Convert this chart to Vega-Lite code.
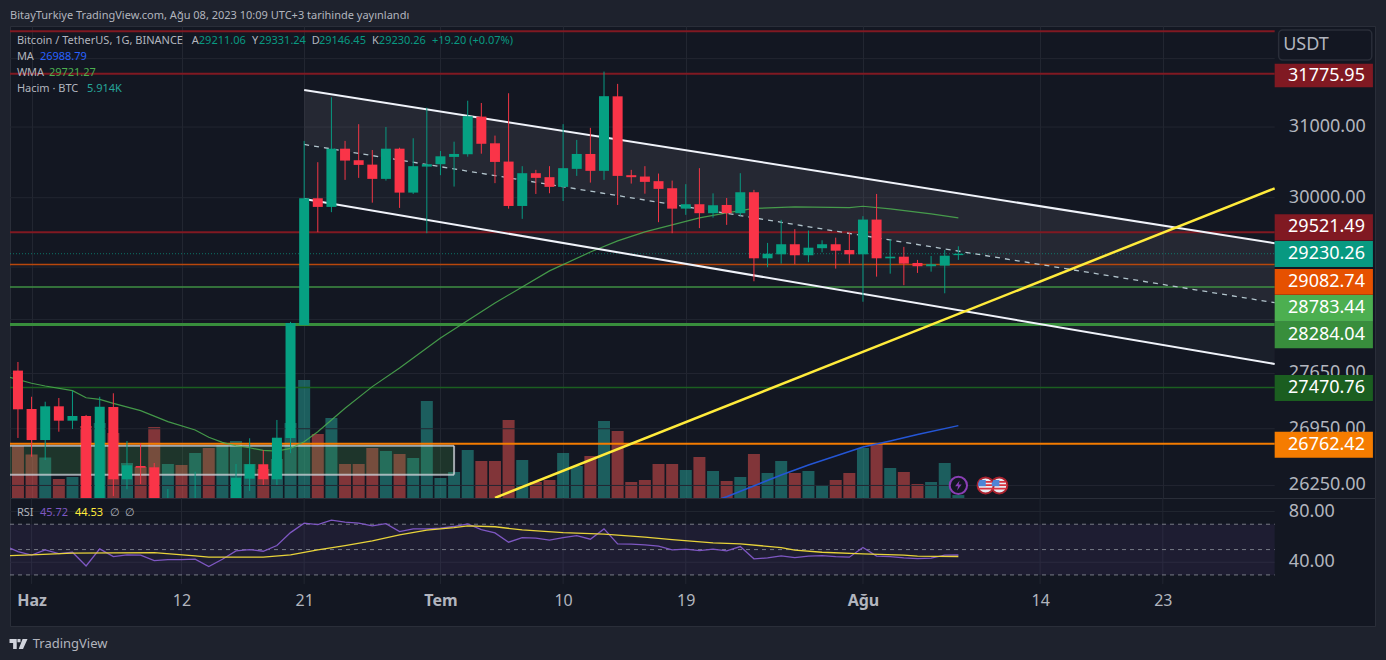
{
  "$schema": "https://vega.github.io/schema/vega-lite/v6.json",
  "background": "#1e222d",
  "padding": {"left": 8, "right": 13, "top": 9, "bottom": 8},
  "title": {"text": "BitayTurkiye TradingView.com, Ağu 08, 2023 10:09 UTC+3 tarihinde yayınlandı", "anchor": "start", "frame": "group", "offset": 5, "fontSize": 11, "fontWeight": "normal", "color": "#b2b5be"},
  "config": {
    "font": "Noto Sans",
    "view": {"stroke": "#2a2e39", "fill": "#131722"}
  },
  "spacing": 0,
  "bounds": "flush",
  "resolve": {"scale": {"color": "independent"}},
  "datasets": {
    "candles": [
      {"date":"2023-05-31","o":27687,"h":27798,"l":26835,"c":27194,"v":104},
      {"date":"2023-06-01","o":27198,"h":27353,"l":26602,"c":26809,"v":87},
      {"date":"2023-06-02","o":26809,"h":27290,"l":26562,"c":27232,"v":81},
      {"date":"2023-06-03","o":27232,"h":27337,"l":26913,"c":27051,"v":38},
      {"date":"2023-06-04","o":27051,"h":27430,"l":26947,"c":27110,"v":42},
      {"date":"2023-06-05","o":27110,"h":27123,"l":25350,"c":25730,"v":144},
      {"date":"2023-06-06","o":25730,"h":27353,"l":25390,"c":27227,"v":150},
      {"date":"2023-06-07","o":27223,"h":27397,"l":26121,"c":26325,"v":130},
      {"date":"2023-06-08","o":26325,"h":26797,"l":26203,"c":26497,"v":70},
      {"date":"2023-06-09","o":26488,"h":26768,"l":26268,"c":26467,"v":62},
      {"date":"2023-06-10","o":26472,"h":26525,"l":25400,"c":25850,"v":142},
      {"date":"2023-06-11","o":25850,"h":26207,"l":25600,"c":25920,"v":68},
      {"date":"2023-06-12","o":25920,"h":26090,"l":25700,"c":25900,"v":66},
      {"date":"2023-06-13","o":25900,"h":26418,"l":25700,"c":25950,"v":90},
      {"date":"2023-06-14","o":25950,"h":26090,"l":24800,"c":25100,"v":100},
      {"date":"2023-06-15","o":25100,"h":25740,"l":24750,"c":25600,"v":106},
      {"date":"2023-06-16","o":25600,"h":26513,"l":25200,"c":26345,"v":114},
      {"date":"2023-06-17","o":26333,"h":26831,"l":26182,"c":26509,"v":68},
      {"date":"2023-06-18","o":26509,"h":26684,"l":26256,"c":26325,"v":58},
      {"date":"2023-06-19","o":26325,"h":27060,"l":26256,"c":26838,"v":78},
      {"date":"2023-06-20","o":26835,"h":28320,"l":26647,"c":28306,"v":150},
      {"date":"2023-06-21","o":28280,"h":30801,"l":28280,"c":29992,"v":236},
      {"date":"2023-06-22","o":29992,"h":30498,"l":29524,"c":29872,"v":128},
      {"date":"2023-06-23","o":29872,"h":31431,"l":29799,"c":30690,"v":160},
      {"date":"2023-06-24","o":30690,"h":30801,"l":30249,"c":30521,"v":68},
      {"date":"2023-06-25","o":30526,"h":31041,"l":30277,"c":30460,"v":68},
      {"date":"2023-06-26","o":30464,"h":30671,"l":29931,"c":30263,"v":100},
      {"date":"2023-06-27","o":30263,"h":31000,"l":30239,"c":30690,"v":94},
      {"date":"2023-06-28","o":30690,"h":30704,"l":29858,"c":30071,"v":88},
      {"date":"2023-06-29","o":30071,"h":30839,"l":30052,"c":30442,"v":80},
      {"date":"2023-06-30","o":30436,"h":31280,"l":29510,"c":30470,"v":194},
      {"date":"2023-07-01","o":30470,"h":30657,"l":30315,"c":30582,"v":40},
      {"date":"2023-07-02","o":30573,"h":30790,"l":30155,"c":30615,"v":52},
      {"date":"2023-07-03","o":30611,"h":31381,"l":30577,"c":31156,"v":96},
      {"date":"2023-07-04","o":31150,"h":31348,"l":30619,"c":30760,"v":74},
      {"date":"2023-07-05","o":30767,"h":30877,"l":30203,"c":30502,"v":74},
      {"date":"2023-07-06","o":30507,"h":31490,"l":29848,"c":29885,"v":156},
      {"date":"2023-07-07","o":29885,"h":30442,"l":29707,"c":30343,"v":76},
      {"date":"2023-07-08","o":30343,"h":30390,"l":30052,"c":30277,"v":32},
      {"date":"2023-07-09","o":30287,"h":30442,"l":30062,"c":30151,"v":36},
      {"date":"2023-07-10","o":30151,"h":31041,"l":29954,"c":30414,"v":90},
      {"date":"2023-07-11","o":30404,"h":30815,"l":30305,"c":30615,"v":64},
      {"date":"2023-07-12","o":30615,"h":30988,"l":30211,"c":30376,"v":84},
      {"date":"2023-07-13","o":30376,"h":31808,"l":30249,"c":31447,"v":154},
      {"date":"2023-07-14","o":31445,"h":31627,"l":29899,"c":30305,"v":134},
      {"date":"2023-07-15","o":30315,"h":30390,"l":30197,"c":30287,"v":32},
      {"date":"2023-07-16","o":30296,"h":30442,"l":30056,"c":30221,"v":36},
      {"date":"2023-07-17","o":30231,"h":30338,"l":29661,"c":30123,"v":68},
      {"date":"2023-07-18","o":30132,"h":30239,"l":29510,"c":29848,"v":68},
      {"date":"2023-07-19","o":29848,"h":30189,"l":29762,"c":29909,"v":56},
      {"date":"2023-07-20","o":29909,"h":30414,"l":29579,"c":29785,"v":82},
      {"date":"2023-07-21","o":29785,"h":30060,"l":29724,"c":29895,"v":54},
      {"date":"2023-07-22","o":29899,"h":29996,"l":29624,"c":29785,"v":34},
      {"date":"2023-07-23","o":29785,"h":30343,"l":29748,"c":30076,"v":42},
      {"date":"2023-07-24","o":30076,"h":30109,"l":28859,"c":29168,"v":88},
      {"date":"2023-07-25","o":29168,"h":29377,"l":29047,"c":29230,"v":50},
      {"date":"2023-07-26","o":29222,"h":29693,"l":29096,"c":29359,"v":74},
      {"date":"2023-07-27","o":29359,"h":29565,"l":29088,"c":29209,"v":50},
      {"date":"2023-07-28","o":29209,"h":29546,"l":29115,"c":29312,"v":54},
      {"date":"2023-07-29","o":29305,"h":29413,"l":29249,"c":29359,"v":26},
      {"date":"2023-07-30","o":29359,"h":29449,"l":29029,"c":29271,"v":36},
      {"date":"2023-07-31","o":29280,"h":29518,"l":29096,"c":29222,"v":50},
      {"date":"2023-08-01","o":29222,"h":29744,"l":28586,"c":29697,"v":100},
      {"date":"2023-08-02","o":29697,"h":30052,"l":28921,"c":29168,"v":108},
      {"date":"2023-08-03","o":29168,"h":29423,"l":28961,"c":29190,"v":60},
      {"date":"2023-08-04","o":29190,"h":29323,"l":28806,"c":29096,"v":52},
      {"date":"2023-08-05","o":29105,"h":29146,"l":28971,"c":29061,"v":28},
      {"date":"2023-08-06","o":29061,"h":29199,"l":28988,"c":29088,"v":32},
      {"date":"2023-08-07","o":29069,"h":29280,"l":28698,"c":29203,"v":70},
      {"date":"2023-08-08","o":29211.06,"h":29331.24,"l":29146.45,"c":29230.26,"v":5.914}
    ],
    "wma": [
      {"date":"2023-05-30T10:00:00Z","p":27600},{"date":"2023-06-01","p":27525},{"date":"2023-06-02","p":27490},{"date":"2023-06-04","p":27430},
      {"date":"2023-06-05","p":27340},{"date":"2023-06-06","p":27320},{"date":"2023-06-07","p":27270},{"date":"2023-06-09","p":27177},
      {"date":"2023-06-11","p":27039},{"date":"2023-06-13","p":26935},{"date":"2023-06-14","p":26843},{"date":"2023-06-15","p":26780},
      {"date":"2023-06-16","p":26738},{"date":"2023-06-17","p":26713},{"date":"2023-06-18","p":26680},{"date":"2023-06-19","p":26672},
      {"date":"2023-06-20","p":26705},{"date":"2023-06-21","p":26788},{"date":"2023-06-22","p":26913},{"date":"2023-06-23","p":27060},
      {"date":"2023-06-24","p":27207},{"date":"2023-06-26","p":27482},{"date":"2023-06-28","p":27721},{"date":"2023-07-01","p":28109},
      {"date":"2023-07-05","p":28569},{"date":"2023-07-09","p":28998},{"date":"2023-07-12","p":29253},{"date":"2023-07-14","p":29404},
      {"date":"2023-07-16","p":29528},{"date":"2023-07-18","p":29624},{"date":"2023-07-20","p":29720},{"date":"2023-07-22","p":29789},
      {"date":"2023-07-24","p":29851},{"date":"2023-07-27","p":29872},{"date":"2023-07-31","p":29862},{"date":"2023-08-01","p":29881},
      {"date":"2023-08-03","p":29844},{"date":"2023-08-06","p":29775},{"date":"2023-08-08","p":29721.27}
    ],
    "ma": [
      {"date":"2023-07-21","p":26060},{"date":"2023-07-22","p":26112},{"date":"2023-07-26","p":26378},{"date":"2023-07-28","p":26500},
      {"date":"2023-08-01","p":26722},{"date":"2023-08-03","p":26797},{"date":"2023-08-05","p":26878},{"date":"2023-08-08","p":26988.79}
    ],
    "channel": [
      {"date":"2023-06-21","upper":31538,"mid":30750,"lower":29982},
      {"date":"2023-08-31T05:00:00Z","upper":29373,"mid":28573,"lower":27773}
    ],
    "trend": [
      {"date":"2023-07-05","p":26100},
      {"date":"2023-08-31T05:00:00Z","p":30130}
    ],
    "box": [
      {"date":"2023-05-30T10:00:00Z","end":"2023-07-02","top":26738,"bottom":26382}
    ],
    "boxEdgesH": [
      {"date":"2023-05-30T10:00:00Z","end":"2023-07-02","p":26738},
      {"date":"2023-05-30T10:00:00Z","end":"2023-07-02","p":26382}
    ],
    "boxEdgeV": [
      {"date":"2023-07-02","top":26738,"bottom":26382}
    ],
    "grid": [
      {"date":"2023-05-30T10:00:00Z","end":"2023-08-31T05:00:00Z","p":32000},
      {"date":"2023-05-30T10:00:00Z","end":"2023-08-31T05:00:00Z","p":31000},
      {"date":"2023-05-30T10:00:00Z","end":"2023-08-31T05:00:00Z","p":30000},
      {"date":"2023-05-30T10:00:00Z","end":"2023-08-31T05:00:00Z","p":29050},
      {"date":"2023-05-30T10:00:00Z","end":"2023-08-31T05:00:00Z","p":28350},
      {"date":"2023-05-30T10:00:00Z","end":"2023-08-31T05:00:00Z","p":27650},
      {"date":"2023-05-30T10:00:00Z","end":"2023-08-31T05:00:00Z","p":26950},
      {"date":"2023-05-30T10:00:00Z","end":"2023-08-31T05:00:00Z","p":26250}
    ],
    "priceLabels": [
      {"at":"2023-09-01T06:00:00Z","p":31000,"text":"31000.00"},
      {"at":"2023-09-01T06:00:00Z","p":30000,"text":"30000.00"},
      {"at":"2023-09-01T06:00:00Z","p":27650,"text":"27650.00"},
      {"at":"2023-09-01T06:00:00Z","p":26950,"text":"26950.00"},
      {"at":"2023-09-01T06:00:00Z","p":26250,"text":"26250.00"}
    ],
    "levels": [
      {"date":"2023-05-30T10:00:00Z","end":"2023-08-31T05:00:00Z","p":32408,"key":"32408"},
      {"date":"2023-05-30T10:00:00Z","end":"2023-08-31T05:00:00Z","p":31775.95,"key":"31775.95"},
      {"date":"2023-05-30T10:00:00Z","end":"2023-08-31T05:00:00Z","p":29521.49,"key":"29521.49"},
      {"date":"2023-05-30T10:00:00Z","end":"2023-08-31T05:00:00Z","p":29082.74,"key":"29082.74"},
      {"date":"2023-05-30T10:00:00Z","end":"2023-08-31T05:00:00Z","p":28783.44,"key":"28783.44"},
      {"date":"2023-05-30T10:00:00Z","end":"2023-08-31T05:00:00Z","p":28284.04,"key":"28284.04"},
      {"date":"2023-05-30T10:00:00Z","end":"2023-08-31T05:00:00Z","p":27470.76,"key":"27470.76"},
      {"date":"2023-05-30T10:00:00Z","end":"2023-08-31T05:00:00Z","p":26762.42,"key":"26762.42"}
    ],
    "last": [
      {"date":"2023-05-30T10:00:00Z","end":"2023-08-31T05:00:00Z","p":29230.26}
    ],
    "tags": [
      {"date":"2023-08-31T05:00:00Z","end":"2023-09-07T10:00:00Z","at":"2023-09-06T20:00:00Z","key":"31775.95","top":31922,"bottom":31578,"mid":31749},
      {"date":"2023-08-31T05:00:00Z","end":"2023-09-07T10:00:00Z","at":"2023-09-06T20:00:00Z","key":"29521.49","top":29771,"bottom":29411,"mid":29591},
      {"date":"2023-08-31T05:00:00Z","end":"2023-09-07T10:00:00Z","at":"2023-09-06T20:00:00Z","key":"29230.26","top":29404,"bottom":29052,"mid":29226},
      {"date":"2023-08-31T05:00:00Z","end":"2023-09-07T10:00:00Z","at":"2023-09-06T20:00:00Z","key":"29082.74","top":29025,"bottom":28679,"mid":28851},
      {"date":"2023-08-31T05:00:00Z","end":"2023-09-07T10:00:00Z","at":"2023-09-06T20:00:00Z","key":"28783.44","top":28675,"bottom":28323,"mid":28499},
      {"date":"2023-08-31T05:00:00Z","end":"2023-09-07T10:00:00Z","at":"2023-09-06T20:00:00Z","key":"28284.04","top":28323,"bottom":27975,"mid":28148},
      {"date":"2023-08-31T05:00:00Z","end":"2023-09-07T10:00:00Z","at":"2023-09-06T20:00:00Z","key":"27470.76","top":27632,"bottom":27298,"mid":27465},
      {"date":"2023-08-31T05:00:00Z","end":"2023-09-07T10:00:00Z","at":"2023-09-06T20:00:00Z","key":"26762.42","top":26913,"bottom":26590,"mid":26749}
    ],
    "unit": [
      {"date":"2023-08-31T12:00:00Z","end":"2023-09-07T08:00:00Z","at":"2023-08-31T20:00:00Z","top":32428,"bottom":31979,"mid":32202,"text":"USDT"}
    ],
    "notes": [
      {"date":"2023-05-30T22:08:00Z","p":32262,"text":"Bitcoin / TetherUS, 1G, BINANCE","kind":"plain"},
      {"date":"2023-06-12T18:15:00Z","p":32262,"text":"A","kind":"plain"},
      {"date":"2023-06-13T06:30:00Z","p":32262,"text":"29211.06","kind":"up"},
      {"date":"2023-06-17T04:00:00Z","p":32262,"text":"Y","kind":"plain"},
      {"date":"2023-06-17T16:20:00Z","p":32262,"text":"29331.24","kind":"up"},
      {"date":"2023-06-21T13:30:00Z","p":32262,"text":"D","kind":"plain"},
      {"date":"2023-06-22T02:00:00Z","p":32262,"text":"29146.45","kind":"up"},
      {"date":"2023-06-25T23:15:00Z","p":32262,"text":"K","kind":"plain"},
      {"date":"2023-06-26T11:30:00Z","p":32262,"text":"29230.26","kind":"up"},
      {"date":"2023-06-30T09:00:00Z","p":32262,"text":"+19.20 (+0.07%)","kind":"up"},
      {"date":"2023-05-30T22:08:00Z","p":32023,"text":"MA","kind":"plain"},
      {"date":"2023-06-01T14:40:00Z","p":32023,"text":"26988.79","kind":"ma"},
      {"date":"2023-05-30T22:08:00Z","p":31787,"text":"WMA","kind":"plain"},
      {"date":"2023-06-02T06:30:00Z","p":31787,"text":"29721.27","kind":"wma"},
      {"date":"2023-05-30T22:08:00Z","p":31551,"text":"Hacim · BTC","kind":"plain"},
      {"date":"2023-06-05T01:30:00Z","p":31551,"text":"5.914K","kind":"vol"}
    ],
    "icons": [
      {"date":"2023-08-11","p":26250},
      {"date":"2023-08-10","p":26250}
    ],
    "bolt": [
      {"date":"2023-08-08","p":26250}
    ],
    "rsi": [
      {"date":"2023-05-30T10:00:00Z","r":51.2},{"date":"2023-05-31","r":48.4},{"date":"2023-06-01","r":45.6},{"date":"2023-06-02","r":49.8},{"date":"2023-06-03","r":46.8},{"date":"2023-06-04","r":47.9},
      {"date":"2023-06-05","r":37.1},{"date":"2023-06-06","r":50.6},{"date":"2023-06-07","r":44.5},{"date":"2023-06-08","r":45.8},{"date":"2023-06-09","r":45.6},{"date":"2023-06-10","r":41.3},
      {"date":"2023-06-11","r":42.1},{"date":"2023-06-12","r":42.1},{"date":"2023-06-13","r":42.4},{"date":"2023-06-14","r":36.6},{"date":"2023-06-15","r":42.4},{"date":"2023-06-16","r":49},
      {"date":"2023-06-17","r":50},{"date":"2023-06-18","r":48.7},{"date":"2023-06-19","r":53.2},{"date":"2023-06-20","r":63.4},{"date":"2023-06-21","r":70.8},{"date":"2023-06-22","r":69.7},
      {"date":"2023-06-23","r":73.2},{"date":"2023-06-24","r":71.6},{"date":"2023-06-25","r":70.8},{"date":"2023-06-26","r":68.7},{"date":"2023-06-27","r":70.5},{"date":"2023-06-28","r":64.2},
      {"date":"2023-06-29","r":66.3},{"date":"2023-06-30","r":66.3},{"date":"2023-07-01","r":66.9},{"date":"2023-07-02","r":68.2},{"date":"2023-07-03","r":70.3},{"date":"2023-07-04","r":65.8},
      {"date":"2023-07-05","r":63.2},{"date":"2023-07-06","r":55.8},{"date":"2023-07-07","r":59.5},{"date":"2023-07-08","r":59},{"date":"2023-07-09","r":57.4},{"date":"2023-07-10","r":59.5},
      {"date":"2023-07-11","r":61},{"date":"2023-07-12","r":58.2},{"date":"2023-07-13","r":66.3},{"date":"2023-07-14","r":54.5},{"date":"2023-07-15","r":54.3},{"date":"2023-07-16","r":53.7},
      {"date":"2023-07-17","r":52.7},{"date":"2023-07-18","r":49.8},{"date":"2023-07-19","r":50.3},{"date":"2023-07-20","r":49.2},{"date":"2023-07-21","r":50.3},{"date":"2023-07-22","r":49},
      {"date":"2023-07-23","r":52.4},{"date":"2023-07-24","r":42.7},{"date":"2023-07-25","r":43.4},{"date":"2023-07-26","r":45},{"date":"2023-07-27","r":43.7},{"date":"2023-07-28","r":44.8},
      {"date":"2023-07-29","r":45.3},{"date":"2023-07-30","r":44.5},{"date":"2023-07-31","r":44},{"date":"2023-08-01","r":51.6},{"date":"2023-08-02","r":44.8},{"date":"2023-08-03","r":44.5},
      {"date":"2023-08-04","r":43.4},{"date":"2023-08-05","r":42.9},{"date":"2023-08-06","r":43.2},{"date":"2023-08-07","r":45.6},{"date":"2023-08-08","r":45.72}
    ],
    "rsiMa": [
      {"date":"2023-05-30T10:00:00Z","r":45.3},{"date":"2023-06-01","r":45.8},{"date":"2023-06-04","r":47.2},{"date":"2023-06-07","r":47.4},{"date":"2023-06-10","r":47.6},
      {"date":"2023-06-13","r":45},{"date":"2023-06-14","r":44},{"date":"2023-06-18","r":44},{"date":"2023-06-20","r":45.8},{"date":"2023-06-22","r":49.8},
      {"date":"2023-06-24","r":53.2},{"date":"2023-06-26","r":56.9},{"date":"2023-06-28","r":61.6},{"date":"2023-06-30","r":65.3},{"date":"2023-07-02","r":67.4},
      {"date":"2023-07-03","r":68.7},{"date":"2023-07-05","r":68},{"date":"2023-07-07","r":65.5},{"date":"2023-07-10","r":63.4},{"date":"2023-07-13","r":62.2},
      {"date":"2023-07-16","r":59.8},{"date":"2023-07-18","r":57.9},{"date":"2023-07-21","r":55.3},{"date":"2023-07-23","r":54.5},{"date":"2023-07-26","r":51.6},
      {"date":"2023-07-27","r":49.5},{"date":"2023-07-29","r":47.9},{"date":"2023-08-01","r":46.6},{"date":"2023-08-04","r":45.6},{"date":"2023-08-05","r":44.8},{"date":"2023-08-08","r":44.53}
    ],
    "rsiBand": [
      {"date":"2023-05-30T10:00:00Z","end":"2023-08-31T05:00:00Z","lo":30,"hi":70}
    ],
    "rsiRules": [
      {"date":"2023-05-30T10:00:00Z","end":"2023-08-31T05:00:00Z","r":70},
      {"date":"2023-05-30T10:00:00Z","end":"2023-08-31T05:00:00Z","r":50},
      {"date":"2023-05-30T10:00:00Z","end":"2023-08-31T05:00:00Z","r":30}
    ],
    "rsiGrid": [
      {"date":"2023-05-30T10:00:00Z","end":"2023-08-31T05:00:00Z","r":80},
      {"date":"2023-05-30T10:00:00Z","end":"2023-08-31T05:00:00Z","r":40}
    ],
    "rsiLabels": [
      {"at":"2023-09-01T06:00:00Z","r":80,"text":"80.00"},
      {"at":"2023-09-01T06:00:00Z","r":40,"text":"40.00"}
    ],
    "timeGrid": [
      {"date":"2023-06-01","lo":22.9,"hi":90.7},{"date":"2023-06-12","lo":22.9,"hi":90.7},{"date":"2023-06-21","lo":22.9,"hi":90.7},
      {"date":"2023-07-01","lo":22.9,"hi":90.7},{"date":"2023-07-10","lo":22.9,"hi":90.7},{"date":"2023-07-19","lo":22.9,"hi":90.7},
      {"date":"2023-08-01","lo":22.9,"hi":90.7},{"date":"2023-08-14","lo":22.9,"hi":90.7},{"date":"2023-08-23","lo":22.9,"hi":90.7}
    ],
    "rsiNotes": [
      {"date":"2023-05-30T22:08:00Z","r":78.9,"text":"RSI","kind":"plain"},
      {"date":"2023-06-01T14:40:00Z","r":78.9,"text":"45.72","kind":"rsi"},
      {"date":"2023-06-04T04:20:00Z","r":78.9,"text":"44.53","kind":"rsima"},
      {"date":"2023-06-06T17:50:00Z","r":78.9,"text":"∅","kind":"plain"},
      {"date":"2023-06-07T20:20:00Z","r":78.9,"text":"∅","kind":"plain"}
    ],
    "footer": [
      {"date":"2023-06-01T02:00:00Z","r":-24.5,"text":"TradingView"}
    ],
    "logo": [
      {"date":"2023-05-31T01:00:00Z","r":-24.5}
    ]
  },
  "vconcat": [
    {
      "width": 1365,
      "height": 472,
      "encoding": {
        "x": {
          "field": "date",
          "type": "temporal",
          "title": null,
          "scale": {"type": "utc", "padding": 0, "domain": ["2023-05-30T10:00:00Z", "2023-09-07T13:40:00Z"]},
          "axis": {
            "values": [
              {"year":2023,"month":6,"date":1,"utc":true},{"year":2023,"month":6,"date":12,"utc":true},{"year":2023,"month":6,"date":21,"utc":true},
              {"year":2023,"month":7,"date":1,"utc":true},{"year":2023,"month":7,"date":10,"utc":true},{"year":2023,"month":7,"date":19,"utc":true},
              {"year":2023,"month":8,"date":1,"utc":true},{"year":2023,"month":8,"date":14,"utc":true},{"year":2023,"month":8,"date":23,"utc":true}
            ],
            "grid": true,
            "gridColor": "#222631",
            "labels": false,
            "ticks": false,
            "domain": false
          }
        }
      },
      "resolve": {"scale": {"y": "independent"}, "axis": {"y": "independent"}},
      "layer": [
        {
          "data": {"name": "candles"},
          "mark": {"type": "bar", "size": 12, "opacity": 0.5},
          "encoding": {
            "y": {"field": "v", "type": "quantitative", "axis": null, "scale": {"domain": [0, 944], "nice": false, "zero": true}},
            "color": {"condition": {"test": "datum.c >= datum.o", "value": "#26a69a"}, "value": "#ef5350"}
          }
        },
        {
          "layer": [
            {
              "data": {"name": "grid", "format": {"parse": {"end": "date"}}},
              "mark": {"type": "rule", "color": "#222631", "strokeWidth": 1},
              "encoding": {
                "x2": {"field": "end"},
                "y": {
                  "field": "p",
                  "type": "quantitative",
                  "title": null,
                  "scale": {"type": "log", "domain": [26097.6, 32488], "nice": false, "zero": false},
                  "axis": null
                }
              }
            },
            {
              "data": {"name": "priceLabels"},
              "mark": {"type": "text", "align": "left", "baseline": "middle", "fontSize": 18, "color": "#b2b5be"},
              "encoding": {
                "x": {"field": "at", "type": "temporal", "title": null},
                "y": {"field": "p", "type": "quantitative", "axis": null},
                "text": {"field": "text"}
              }
            },
            {
              "data": {"name": "channel"},
              "mark": {"type": "area", "color": "#787b86", "opacity": 0.18, "clip": true},
              "encoding": {"y": {"field": "upper", "type": "quantitative", "axis": null}, "y2": {"field": "mid"}}
            },
            {
              "data": {"name": "channel"},
              "mark": {"type": "area", "color": "#787b86", "opacity": 0.08, "clip": true},
              "encoding": {"y": {"field": "mid", "type": "quantitative", "axis": null}, "y2": {"field": "lower"}}
            },
            {
              "data": {"name": "box", "format": {"parse": {"end": "date"}}},
              "mark": {"type": "rect", "fill": "#4caf50", "fillOpacity": 0.2, "clip": true},
              "encoding": {"x2": {"field": "end"}, "y": {"field": "top", "type": "quantitative", "axis": null}, "y2": {"field": "bottom"}}
            },
            {
              "data": {"name": "boxEdgesH", "format": {"parse": {"end": "date"}}},
              "mark": {"type": "rule", "color": "#d1d4dc", "opacity": 0.75, "strokeWidth": 2},
              "encoding": {"x2": {"field": "end"}, "y": {"field": "p", "type": "quantitative", "axis": null}}
            },
            {
              "data": {"name": "boxEdgeV"},
              "mark": {"type": "rule", "color": "#d1d4dc", "opacity": 0.75, "strokeWidth": 2},
              "encoding": {"y": {"field": "top", "type": "quantitative", "axis": null}, "y2": {"field": "bottom"}}
            },
            {
              "data": {"name": "levels", "format": {"parse": {"end": "date"}}},
              "transform": [{"filter": {"field": "key", "oneOf": ["32408", "31775.95", "29521.49", "26762.42"]}}],
              "mark": {"type": "rule", "strokeWidth": 2, "clip": true},
              "encoding": {
                "x2": {"field": "end"},
                "y": {"field": "p", "type": "quantitative", "axis": null},
                "color": {"field": "key", "type": "nominal", "legend": null, "scale": {"domain": ["32408", "31775.95", "29521.49", "29082.74", "28783.44", "28284.04", "27470.76", "26762.42"], "range": ["#801922", "#801922", "#801922", "#b8470c", "#3f8f43", "#388e3c", "#1b5e20", "#f57c00"]}}
              }
            },
            {
              "data": {"name": "levels", "format": {"parse": {"end": "date"}}},
              "transform": [{"filter": {"field": "key", "oneOf": ["28284.04"]}}],
              "mark": {"type": "rule", "strokeWidth": 3, "clip": true},
              "encoding": {
                "x2": {"field": "end"},
                "y": {"field": "p", "type": "quantitative", "axis": null},
                "color": {"field": "key", "type": "nominal", "legend": null, "scale": {"domain": ["32408", "31775.95", "29521.49", "29082.74", "28783.44", "28284.04", "27470.76", "26762.42"], "range": ["#801922", "#801922", "#801922", "#b8470c", "#3f8f43", "#388e3c", "#1b5e20", "#f57c00"]}}
              }
            },
            {
              "data": {"name": "levels", "format": {"parse": {"end": "date"}}},
              "transform": [{"filter": {"field": "key", "oneOf": ["29082.74", "28783.44", "27470.76"]}}],
              "mark": {"type": "rule", "strokeWidth": 1.5, "clip": true},
              "encoding": {
                "x2": {"field": "end"},
                "y": {"field": "p", "type": "quantitative", "axis": null},
                "color": {"field": "key", "type": "nominal", "legend": null, "scale": {"domain": ["32408", "31775.95", "29521.49", "29082.74", "28783.44", "28284.04", "27470.76", "26762.42"], "range": ["#801922", "#801922", "#801922", "#b8470c", "#3f8f43", "#388e3c", "#1b5e20", "#f57c00"]}}
              }
            },
            {
              "data": {"name": "last", "format": {"parse": {"end": "date"}}},
              "mark": {"type": "rule", "color": "#089981", "strokeWidth": 1, "strokeDash": [1, 2], "opacity": 0.7},
              "encoding": {"x2": {"field": "end"}, "y": {"field": "p", "type": "quantitative", "axis": null}}
            },
            {
              "data": {"name": "ma"},
              "mark": {"type": "line", "color": "#2456d6", "strokeWidth": 1.5, "clip": true},
              "encoding": {"y": {"field": "p", "type": "quantitative", "axis": null}}
            },
            {
              "data": {"name": "wma"},
              "mark": {"type": "line", "color": "#4caf50", "strokeWidth": 1.2, "clip": true, "opacity": 0.85},
              "encoding": {"y": {"field": "p", "type": "quantitative", "axis": null}}
            },
            {
              "data": {"name": "channel"},
              "mark": {"type": "line", "color": "#f0f3fa", "strokeWidth": 2, "clip": true},
              "encoding": {"y": {"field": "upper", "type": "quantitative", "axis": null}}
            },
            {
              "data": {"name": "channel"},
              "mark": {"type": "line", "color": "#f0f3fa", "strokeWidth": 2, "clip": true},
              "encoding": {"y": {"field": "lower", "type": "quantitative", "axis": null}}
            },
            {
              "data": {"name": "channel"},
              "mark": {"type": "line", "color": "#b2c4cc", "strokeWidth": 1.3, "strokeDash": [5, 5], "clip": true},
              "encoding": {"y": {"field": "mid", "type": "quantitative", "axis": null}}
            },
            {
              "data": {"name": "trend"},
              "mark": {"type": "line", "color": "#ffeb3b", "strokeWidth": 2.5, "clip": true},
              "encoding": {"y": {"field": "p", "type": "quantitative", "axis": null}}
            },
            {
              "data": {"name": "candles"},
              "mark": {"type": "rule", "strokeWidth": 1, "clip": true},
              "encoding": {
                "y": {"field": "h", "type": "quantitative", "axis": null},
                "y2": {"field": "l"},
                "color": {"condition": {"test": "datum.c >= datum.o", "value": "#089981"}, "value": "#f23645"}
              }
            },
            {
              "data": {"name": "candles"},
              "mark": {"type": "bar", "size": 10, "clip": true},
              "encoding": {
                "y": {"field": "o", "type": "quantitative", "axis": null},
                "y2": {"field": "c"},
                "color": {"condition": {"test": "datum.c >= datum.o", "value": "#06a082"}, "value": "#fa3448"}
              }
            },
            {
              "data": {"name": "icons"},
              "mark": {"type": "point", "shape": "circle", "filled": false, "fill": "#e8ebf2", "fillOpacity": 1, "stroke": "#a9222e", "strokeWidth": 2, "opacity": 1, "size": 260},
              "encoding": {"y": {"field": "p", "type": "quantitative", "axis": null}}
            },
            {
              "data": {"name": "icons"},
              "mark": {"type": "point", "shape": "M-.1,-.6H.85V-.38H-.1Z M-.1,-.15H1V.08H-.1Z M-1,.32H1V.55H-1Z", "filled": true, "color": "#d8323f", "opacity": 1, "size": 220},
              "encoding": {"y": {"field": "p", "type": "quantitative", "axis": null}}
            },
            {
              "data": {"name": "icons"},
              "mark": {"type": "point", "shape": "M-.8,-.75H.02V.1H-1V-.3Z", "filled": true, "color": "#4d84d6", "opacity": 1, "size": 220},
              "encoding": {"y": {"field": "p", "type": "quantitative", "axis": null}}
            },
            {
              "data": {"name": "bolt"},
              "mark": {"type": "point", "shape": "circle", "filled": false, "fill": "#131722", "fillOpacity": 1, "stroke": "#8a3fb5", "strokeWidth": 2, "opacity": 1, "size": 300},
              "encoding": {"y": {"field": "p", "type": "quantitative", "axis": null}}
            },
            {
              "data": {"name": "bolt"},
              "mark": {"type": "point", "shape": "M.25,-1 L-.65,.15 H-.05 L-.25,1 L.65,-.2 H.05 Z", "filled": true, "color": "#8a3fb5", "opacity": 1, "size": 100},
              "encoding": {"y": {"field": "p", "type": "quantitative", "axis": null}}
            },
            {
              "data": {"name": "notes"},
              "mark": {"type": "text", "align": "left", "baseline": "middle", "fontSize": 11},
              "encoding": {
                "y": {"field": "p", "type": "quantitative", "axis": null},
                "text": {"field": "text"},
                "fill": {"field": "kind", "type": "nominal", "legend": null, "scale": {"domain": ["plain", "up", "ma", "wma", "vol", "31775.95", "29521.49", "29230.26", "29082.74", "28783.44", "28284.04", "27470.76", "26762.42"], "range": ["#b2b5be", "#089981", "#2962ff", "#4caf50", "#26a69a", "#801922", "#801922", "#089981", "#e65100", "#4caf50", "#388e3c", "#1b5e20", "#f57c00"]}}
              }
            },
            {
              "data": {"name": "tags", "format": {"parse": {"end": "date"}}},
              "mark": {"type": "rect"},
              "encoding": {
                "x2": {"field": "end"},
                "y": {"field": "top", "type": "quantitative", "axis": null},
                "y2": {"field": "bottom"},
                "fill": {"field": "key", "type": "nominal", "legend": null, "scale": {"domain": ["plain", "up", "ma", "wma", "vol", "31775.95", "29521.49", "29230.26", "29082.74", "28783.44", "28284.04", "27470.76", "26762.42"], "range": ["#b2b5be", "#089981", "#2962ff", "#4caf50", "#26a69a", "#801922", "#801922", "#089981", "#e65100", "#4caf50", "#388e3c", "#1b5e20", "#f57c00"]}}
              }
            },
            {
              "data": {"name": "tags"},
              "mark": {"type": "text", "align": "right", "baseline": "middle", "fontSize": 18, "color": "#ffffff"},
              "encoding": {
                "x": {"field": "at", "type": "temporal", "title": null},
                "y": {"field": "mid", "type": "quantitative", "axis": null},
                "text": {"field": "key"}
              }
            },
            {
              "data": {"name": "unit", "format": {"parse": {"end": "date"}}},
              "mark": {"type": "rect", "fill": "#131722", "stroke": "#2a2e39", "strokeWidth": 1.5, "cornerRadius": 4},
              "encoding": {"x2": {"field": "end"}, "y": {"field": "top", "type": "quantitative", "axis": null}, "y2": {"field": "bottom"}}
            },
            {
              "data": {"name": "unit"},
              "mark": {"type": "text", "align": "left", "baseline": "middle", "fontSize": 18, "color": "#b2b5be"},
              "encoding": {
                "x": {"field": "at", "type": "temporal", "title": null},
                "y": {"field": "mid", "type": "quantitative", "axis": null},
                "text": {"field": "text"}
              }
            }
          ]
        }
      ]
    },
    {
      "width": 1365,
      "height": 128,
      "encoding": {
        "x": {
          "field": "date",
          "type": "temporal",
          "title": null,
          "scale": {"type": "utc", "domain": ["2023-05-30T10:00:00Z", "2023-09-07T13:40:00Z"]},
          "axis": {
            "offset": -42,
            "values": [
              {"year":2023,"month":6,"date":1,"utc":true},{"year":2023,"month":6,"date":12,"utc":true},{"year":2023,"month":6,"date":21,"utc":true},
              {"year":2023,"month":7,"date":1,"utc":true},{"year":2023,"month":7,"date":10,"utc":true},{"year":2023,"month":7,"date":19,"utc":true},
              {"year":2023,"month":8,"date":1,"utc":true},{"year":2023,"month":8,"date":14,"utc":true},{"year":2023,"month":8,"date":23,"utc":true}
            ],
            "labelExpr": "utcdate(datum.value) == 1 ? ['Haz', 'Tem', 'Ağu'][utcmonth(datum.value) - 5] : '' + utcdate(datum.value)",
            "labelFontWeight": {"condition": {"test": "utcdate(datum.value) == 1", "value": "bold"}, "value": "normal"},
            "labelColor": "#b2b5be",
            "labelFontSize": 16,
            "labelPadding": 8,
            "labelOverlap": false,
            "labelBound": false,
            "labelFlush": false,
            "grid": false,
            "ticks": false,
            "domain": false
          }
        }
      },
      "layer": [
        {
          "data": {"name": "rsiGrid", "format": {"parse": {"end": "date"}}},
          "mark": {"type": "rule", "color": "#222631", "strokeWidth": 1},
          "encoding": {
            "x2": {"field": "end"},
            "y": {
              "field": "r",
              "type": "quantitative",
              "title": null,
              "scale": {"domain": [-10.3, 90.7], "nice": false, "zero": false},
              "axis": null
            }
          }
        },
        {
          "data": {"name": "timeGrid"},
          "mark": {"type": "rule", "color": "#222631", "strokeWidth": 1},
          "encoding": {"y": {"field": "lo", "type": "quantitative", "axis": null}, "y2": {"field": "hi"}}
        },
        {
          "data": {"name": "rsiBand", "format": {"parse": {"end": "date"}}},
          "mark": {"type": "rect", "color": "#7e57c2", "opacity": 0.1},
          "encoding": {"x2": {"field": "end"}, "y": {"field": "lo", "type": "quantitative", "axis": null}, "y2": {"field": "hi"}}
        },
        {
          "data": {"name": "rsiRules", "format": {"parse": {"end": "date"}}},
          "mark": {"type": "rule", "color": "#787b86", "strokeWidth": 1, "strokeDash": [4, 4]},
          "encoding": {"x2": {"field": "end"}, "y": {"field": "r", "type": "quantitative", "axis": null}}
        },
        {
          "data": {"name": "rsi"},
          "mark": {"type": "line", "color": "#7e57c2", "strokeWidth": 1.3, "clip": true},
          "encoding": {"y": {"field": "r", "type": "quantitative", "axis": null}}
        },
        {
          "data": {"name": "rsiMa"},
          "mark": {"type": "line", "color": "#e8d33a", "strokeWidth": 1.3, "clip": true},
          "encoding": {"y": {"field": "r", "type": "quantitative", "axis": null}}
        },
        {
          "data": {"name": "rsiNotes"},
          "mark": {"type": "text", "align": "left", "baseline": "middle", "fontSize": 11},
          "encoding": {
            "y": {"field": "r", "type": "quantitative", "axis": null},
            "text": {"field": "text"},
            "color": {"field": "kind", "type": "nominal", "legend": null, "scale": {"domain": ["plain", "rsi", "rsima"], "range": ["#b2b5be", "#7e57c2", "#ffeb3b"]}}
          }
        },
        {
          "data": {"name": "rsiLabels"},
          "mark": {"type": "text", "align": "left", "baseline": "middle", "fontSize": 18, "color": "#b2b5be"},
          "encoding": {
            "x": {"field": "at", "type": "temporal", "title": null},
            "y": {"field": "r", "type": "quantitative", "axis": null},
            "text": {"field": "text"}
          }
        },
        {
          "data": {"name": "footer"},
          "mark": {"type": "text", "align": "left", "baseline": "middle", "fontSize": 13, "color": "#b2b5be"},
          "encoding": {"y": {"field": "r", "type": "quantitative", "axis": null}, "text": {"field": "text"}}
        },
        {
          "data": {"name": "logo"},
          "mark": {"type": "point", "shape": "M-1,-.55H-.2V.55H-.6V-.1H-1Z M-.12,-.55H.22V-.2H-.12Z M.45,-.55H1L.5,.55H.02Z", "filled": true, "color": "#d1d4dc", "opacity": 1, "size": 324},
          "encoding": {"y": {"field": "r", "type": "quantitative", "axis": null}}
        }
      ]
    }
  ]
}
